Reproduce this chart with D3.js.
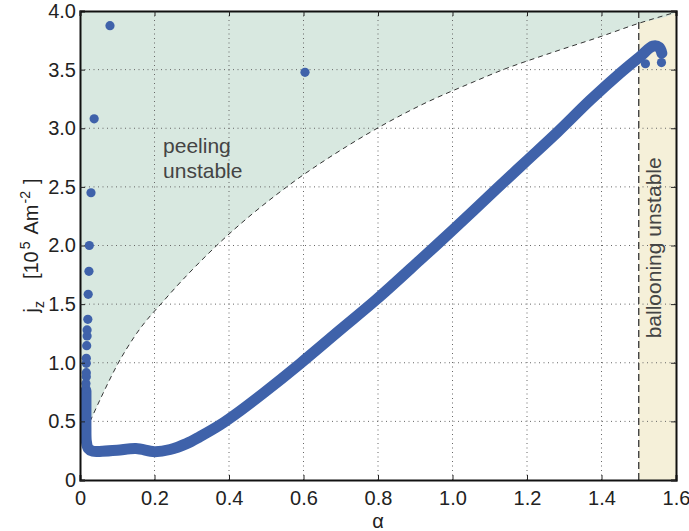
<!DOCTYPE html>
<html>
<head>
<meta charset="utf-8">
<script src="https://cdn.jsdelivr.net/npm/d3@7"></script>
<style>
body { margin: 0; background: #fff; }
svg text { font-family: "Liberation Sans", Arial, Helvetica, sans-serif; }
</style>
</head>
<body>
<div id="chart"></div>
<script>

// axis ticks
var alphaTicks = [0, 0.2, 0.4, 0.6, 0.8, 1.0, 1.2, 1.4, 1.6];
var jTicks = [0, 0.5, 1.0, 1.5, 2.0, 2.5, 3.0, 3.5, 4.0];

// peeling stability boundary (dashed curve)
var boundaryAlpha = [0.027, 0.062, 0.098, 0.152, 0.228, 0.367, 0.555, 0.716, 0.917, 1.06, 1.128, 1.262, 1.396, 1.5, 1.6];
var boundaryJ     = [0.50, 0.74, 0.97, 1.25, 1.54, 2.00, 2.50, 2.845, 3.20, 3.40, 3.49, 3.64, 3.78, 3.895, 3.99];

// ballooning limit
var ballooningAlpha = [1.5, 1.6];

// dense part of the scan (reads as a thick band)
var bandAlpha = [0.016, 0.016, 0.016, 0.017, 0.022, 0.035, 0.06, 0.1, 0.15, 0.2, 0.242, 0.286, 0.322, 0.376, 0.43, 0.492, 0.59, 0.698, 0.796, 0.913, 1.0, 1.117, 1.2, 1.283, 1.37, 1.45, 1.503, 1.538, 1.555, 1.562];
var bandJ     = [0.76, 0.60, 0.45, 0.33, 0.27, 0.245, 0.245, 0.253, 0.268, 0.242, 0.26, 0.31, 0.37, 0.47, 0.59, 0.74, 0.99, 1.279, 1.54, 1.876, 2.13, 2.48, 2.725, 2.97, 3.24, 3.47, 3.61, 3.70, 3.69, 3.64];

// isolated scan points
var dotAlpha = [0.016, 0.016, 0.017, 0.017, 0.017, 0.017, 0.018, 0.019, 0.019, 0.021, 0.022, 0.024, 0.025, 0.0295, 0.038, 0.0805, 0.604, 1.518, 1.561];
var dotJ     = [0.78, 0.824, 0.881, 0.915, 0.995, 1.038, 1.146, 1.228, 1.28, 1.37, 1.584, 1.78, 2.0, 2.45, 3.08, 3.875, 3.477, 3.55, 3.56];


StabilityChart = function(_parentElement){
    this.parentElement = _parentElement;
    this.initVis();
}

StabilityChart.prototype.initVis = function(){
    var vis = this;

    vis.margin = { top: 11, right: 13, bottom: 51, left: 80 };
    vis.width = 689 - vis.margin.left - vis.margin.right;
    vis.height = 531 - vis.margin.top - vis.margin.bottom;

    vis.svg = d3.select("#" + vis.parentElement).append("svg")
        .attr("width", 689)
        .attr("height", 531)
        .append("g")
        .attr("transform", "translate(" + vis.margin.left + "," + vis.margin.top + ")");

    vis.svg.append("defs").append("clipPath")
        .attr("id", "clip")
        .append("rect")
        .attr("width", vis.width)
        .attr("height", vis.height);

    vis.x = d3.scaleLinear().domain([0, 1.6]).range([0, vis.width]);
    vis.y = d3.scaleLinear().domain([0, 4]).range([vis.height, 0]);

    vis.updateVis();
}

StabilityChart.prototype.updateVis = function(){
    var vis = this;

    var plot = vis.svg.append("g").attr("clip-path", "url(#clip)");

    // ballooning unstable region
    plot.append("rect")
        .attr("x", vis.x(ballooningAlpha[0]))
        .attr("y", 0)
        .attr("width", vis.x(ballooningAlpha[1]) - vis.x(ballooningAlpha[0]))
        .attr("height", vis.height)
        .style("fill", "#f5f0d9");

    // peeling unstable region, above the boundary
    var boundary = boundaryAlpha.map((a, i) => [a, boundaryJ[i]]);
    var region = boundary.concat([[1.6, 4.0], [0, 4.0], [0, 0.45]]);

    plot.append("path")
        .datum(region)
        .attr("d", d3.line().x(d => vis.x(d[0])).y(d => vis.y(d[1])).curve(d3.curveMonotoneX))
        .style("fill", "#d3e5dc")
        .style("fill-opacity", 0.88);

    // grid
    plot.selectAll(".grid-x")
        .data(alphaTicks.slice(1, -1))
        .enter().append("line")
        .attr("class", "grid-x")
        .attr("x1", d => vis.x(d)).attr("x2", d => vis.x(d))
        .attr("y1", 0).attr("y2", vis.height);

    plot.selectAll(".grid-y")
        .data(jTicks.slice(1, -1))
        .enter().append("line")
        .attr("class", "grid-y")
        .attr("y1", d => vis.y(d)).attr("y2", d => vis.y(d))
        .attr("x1", 0).attr("x2", vis.width);

    plot.selectAll(".grid-x, .grid-y")
        .style("stroke", "#666")
        .style("stroke-width", 1)
        .style("stroke-dasharray", "1,3.5");

    // boundary lines
    plot.append("path")
        .datum(boundary)
        .attr("d", d3.line().x(d => vis.x(d[0])).y(d => vis.y(d[1])).curve(d3.curveMonotoneX))
        .style("fill", "none")
        .style("stroke", "#333")
        .style("stroke-width", 1)
        .style("stroke-dasharray", "5,4");

    plot.append("line")
        .attr("x1", vis.x(ballooningAlpha[0])).attr("x2", vis.x(ballooningAlpha[0]))
        .attr("y1", 0).attr("y2", vis.height)
        .style("stroke", "#333")
        .style("stroke-width", 1.3)
        .style("stroke-dasharray", "7,4");

    // region labels
    var peel = vis.svg.append("text")
        .attr("x", vis.x(0.223))
        .attr("y", vis.y(2.79))
        .style("font-size", "21px")
        .style("fill", "#444");
    peel.append("tspan").text("peeling");
    peel.append("tspan").attr("x", vis.x(0.223)).attr("dy", 25).text("unstable");

    vis.svg.append("text")
        .attr("text-anchor", "middle")
        .attr("transform", "translate(" + (vis.x(1.55) + 4) + "," + vis.y(1.98) + ")rotate(-90)")
        .style("font-size", "21px")
        .style("fill", "#444")
        .text("ballooning unstable");

    // scan data
    var band = bandAlpha.map((a, i) => [a, bandJ[i]]);
    vis.svg.append("path")
        .datum(band)
        .attr("d", d3.line().x(d => vis.x(d[0])).y(d => vis.y(d[1])).curve(d3.curveCatmullRom))
        .style("fill", "none")
        .style("stroke", "#3f62aa")
        .style("stroke-width", 11)
        .style("stroke-linecap", "round")
        .style("stroke-linejoin", "round");

    vis.svg.selectAll(".dot")
        .data(dotAlpha.map((a, i) => [a, dotJ[i]]))
        .enter().append("circle")
        .attr("class", "dot")
        .attr("cx", d => vis.x(d[0]))
        .attr("cy", d => vis.y(d[1]))
        .attr("r", 4.6)
        .style("fill", "#3f62aa");

    // axes, ticks pointing inward
    var fmt = d => d === 0 ? "0" : d3.format(".1f")(d);

    vis.svg.append("g")
        .attr("class", "axis")
        .attr("transform", "translate(0," + vis.height + ")")
        .call(d3.axisBottom(vis.x).tickValues(alphaTicks).tickFormat(fmt).tickSize(-5).tickPadding(11));

    vis.svg.append("g")
        .attr("class", "axis")
        .call(d3.axisLeft(vis.y).tickValues(jTicks).tickFormat(fmt).tickSize(-5).tickPadding(4));

    vis.svg.append("g")
        .attr("class", "axis")
        .call(d3.axisTop(vis.x).tickValues(alphaTicks).tickFormat("").tickSize(-5));

    vis.svg.append("g")
        .attr("class", "axis")
        .attr("transform", "translate(" + vis.width + ",0)")
        .call(d3.axisRight(vis.y).tickValues(jTicks).tickFormat("").tickSize(-5));

    vis.svg.selectAll(".axis .domain")
        .style("stroke", "#111")
        .style("stroke-width", 2);
    vis.svg.selectAll(".axis .tick line")
        .style("stroke", "#222")
        .style("stroke-width", 1);
    vis.svg.selectAll(".axis text")
        .style("font-size", "20px")
        .style("font-family", "'Liberation Sans', Arial, sans-serif")
        .style("fill", "#222");

    // axis titles
    vis.svg.append("text")
        .attr("text-anchor", "middle")
        .attr("x", vis.width / 2)
        .attr("y", vis.height + 48)
        .style("font-size", "20px")
        .style("fill", "#222")
        .text("α");

    var yTitle = vis.svg.append("text")
        .attr("text-anchor", "middle")
        .attr("transform", "translate(" + (38 - vis.margin.left) + "," + (vis.height / 2) + ")rotate(-90)")
        .style("font-size", "20px")
        .style("fill", "#222");
    yTitle.append("tspan").text("j");
    yTitle.append("tspan").attr("dy", 6).style("font-size", "14px").text("z");
    yTitle.append("tspan").attr("dy", -6).attr("dx", 22).text("[10");
    yTitle.append("tspan").attr("dy", -8).attr("dx", 2).style("font-size", "14px").text("5");
    yTitle.append("tspan").attr("dy", 8).attr("dx", 7).text("Am");
    yTitle.append("tspan").attr("dy", -8).attr("dx", 1).style("font-size", "14px").text("-2");
    yTitle.append("tspan").attr("dy", 8).attr("dx", 7).text("]");
}

var chart = new StabilityChart("chart");
</script>
</body>
</html>
